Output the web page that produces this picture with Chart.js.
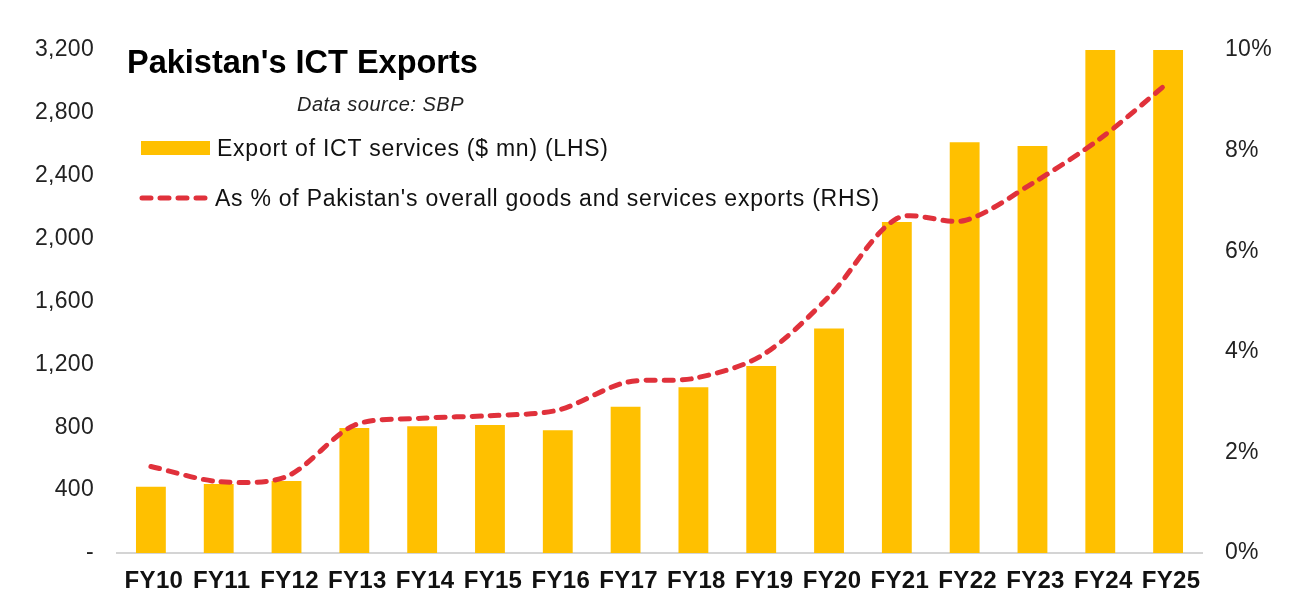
<!DOCTYPE html>
<html>
<head>
<meta charset="utf-8">
<script src="https://cdn.jsdelivr.net/npm/chart.js@4.4.1/dist/chart.umd.min.js"></script>
<style>
  html, body { margin: 0; padding: 0; background: #fff; }
  #wrap { width: 1292px; height: 607px; position: relative; }
</style>
</head>
<body>
<div id="wrap"><canvas id="grafico" width="1292" height="607"></canvas></div>
<script>
const anos = ['FY10', 'FY11', 'FY12', 'FY13', 'FY14', 'FY15', 'FY16', 'FY17',
  'FY18', 'FY19', 'FY20', 'FY21', 'FY22', 'FY23', 'FY24', 'FY25'];
// Export of ICT services ($ mn), LHS
const exportacoesIct = [422, 439, 458, 795, 806, 814, 781, 931,
  1054, 1190, 1429, 2106, 2613, 2589, 3223, 3800];
// As % of overall goods and services exports, RHS
const percentualExportacoes = [1.72, 1.42, 1.52, 2.54, 2.68, 2.73, 2.84, 3.39,
  3.47, 3.92, 5.10, 6.65, 6.61, 7.35, 8.24, 9.35];
const ticksEsquerda = [0, 400, 800, 1200, 1600, 2000, 2400, 2800, 3200];
const ticksDireita = [0, 2, 4, 6, 8, 10];

const corBarra = '#FFC000';
const corLinha = '#E0313B';
const fonte = '"Liberation Sans", Arial, sans-serif';
const tracejado = [9, 9];

// title, source note and legend sit inside the plot area
const legendaInterna = {
  id: 'legendaInterna',
  beforeDraw(chart) {
    chart.ctx.letterSpacing = '0.3px';
  },
  afterDraw(chart) {
    const c = chart.ctx;
    c.save();
    c.textBaseline = 'alphabetic';
    c.textAlign = 'left';
    c.fillStyle = '#000';
    c.letterSpacing = '0px';
    c.font = 'bold 32.5px ' + fonte;
    c.fillText("Pakistan's ICT Exports", 127, 73);

    c.letterSpacing = '0.5px';
    c.font = 'italic 20px ' + fonte;
    c.fillStyle = '#222';
    c.fillText('Data source: SBP', 297, 111);

    c.letterSpacing = '0.75px';
    c.font = '23px ' + fonte;
    c.fillStyle = corBarra;
    c.fillRect(141, 141, 69, 14);
    c.fillStyle = '#111';
    c.fillText(chart.data.datasets[1].label, 217, 156);

    c.strokeStyle = corLinha;
    c.lineWidth = 5;
    c.lineCap = 'round';
    c.setLineDash(tracejado);
    c.beginPath();
    c.moveTo(142, 198);
    c.lineTo(210, 198);
    c.stroke();
    c.setLineDash([]);
    c.fillText(chart.data.datasets[0].label, 215, 206);
    c.restore();
  }
};

const ctx = document.getElementById('grafico').getContext('2d');
let grafico = new Chart(ctx, {
  data: {
    labels: anos,
    datasets: [{
      type: 'line',
      label: "As % of Pakistan's overall goods and services exports (RHS)",
      data: percentualExportacoes,
      yAxisID: 'y1',
      borderColor: corLinha,
      borderWidth: 5,
      borderDash: tracejado,
      borderCapStyle: 'round',
      pointRadius: 0,
      tension: 0.3,
      fill: false,
      order: 0
    }, {
      type: 'bar',
      label: 'Export of ICT services ($ mn) (LHS)',
      data: exportacoesIct,
      yAxisID: 'y',
      backgroundColor: corBarra,
      barPercentage: 0.44,
      categoryPercentage: 1,
      clip: 0,
      order: 1
    }]
  },
  options: {
    responsive: false,
    animation: false,
    layout: { padding: { top: 50, bottom: 0, left: 0, right: 0 } },
    plugins: {
      legend: { display: false },
      tooltip: { enabled: false }
    },
    scales: {
      x: {
        grid: { display: false },
        border: { display: true, color: '#D4D4D4', width: 2 },
        ticks: {
          color: '#111',
          font: { family: fonte, size: 24, weight: 'bold' },
          padding: 6,
          labelOffset: 3,
          maxRotation: 0,
          autoSkip: false
        },
        afterFit(s) { s.height = 54; }
      },
      y: {
        position: 'left',
        min: 0,
        max: 3200,
        grid: { display: false },
        border: { display: false },
        afterBuildTicks(s) { s.ticks = ticksEsquerda.map(v => ({ value: v })); },
        ticks: {
          color: '#222',
          font: { family: fonte, size: 23 },
          padding: 15,
          callback: v => v === 0 ? '-' : v.toLocaleString('en-US')
        },
        afterFit(s) { s.width = 117; }
      },
      y1: {
        position: 'right',
        min: 0,
        max: 10,
        grid: { display: false },
        border: { display: false },
        afterBuildTicks(s) { s.ticks = ticksDireita.map(v => ({ value: v })); },
        ticks: {
          color: '#222',
          font: { family: fonte, size: 23 },
          padding: 15,
          callback: v => v + '%'
        },
        afterFit(s) { s.width = 90; }
      }
    }
  },
  plugins: [legendaInterna]
});
</script>
</body>
</html>
